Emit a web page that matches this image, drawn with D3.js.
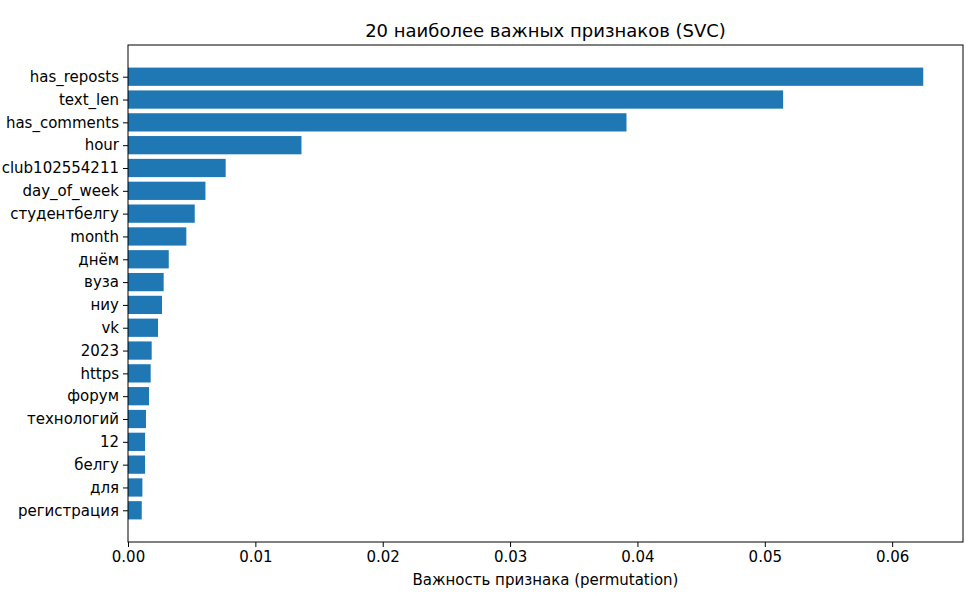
<!DOCTYPE html>
<html>
<head>
<meta charset="utf-8">
<script src="https://cdn.jsdelivr.net/npm/d3@7"></script>
<style>
    body { margin: 0; background: #fff; }
    text { font-family: "DejaVu Sans", sans-serif; fill: #000; }
</style>
</head>
<body>
<svg id="chart"></svg>
<script>
const features = [
    "has_reposts", "text_len", "has_comments", "hour", "club102554211",
    "day_of_week", "студентбелгу", "month", "днём", "вуза",
    "ниу", "vk", "2023", "https", "форум",
    "технологий", "12", "белгу", "для", "регистрация"
];
const importances = [
    0.06244, 0.05144, 0.03914, 0.01362, 0.00767,
    0.00608, 0.00524, 0.00458, 0.0032, 0.0028,
    0.00267, 0.00236, 0.00186, 0.00178, 0.00165,
    0.00141, 0.00134, 0.00134, 0.00113, 0.00108
];
const xTicks = [0, 0.01, 0.02, 0.03, 0.04, 0.05, 0.06];

const width = 975, height = 596;
const margin = { top: 45, right: 12, bottom: 54, left: 128 };
const innerW = width - margin.left - margin.right;
const innerH = height - margin.top - margin.bottom;

const svg = d3.select("#chart")
    .attr("width", width)
    .attr("height", height);

const g = svg.append("g")
    .attr("transform", `translate(${margin.left}, ${margin.top})`);

// matplotlib-like limits: 5% margin on each side
const xMax = d3.max(importances) * 1.05;
const x = d3.scaleLinear()
    .domain([0, xMax])
    .range([0, innerW]);

const barH = 0.8;
const yLo = -barH / 2, yHi = features.length - 1 + barH / 2;
const yPad = (yHi - yLo) * 0.05;
const y = d3.scaleLinear()
    .domain([yLo - yPad, yHi + yPad])
    .range([0, innerH]);

g.selectAll("rect.bar")
    .data(importances)
    .join("rect")
    .attr("class", "bar")
    .attr("x", x(0))
    .attr("y", (d, i) => y(i - barH / 2))
    .attr("width", d => x(d) - x(0))
    .attr("height", y(barH) - y(0))
    .attr("fill", "#1f77b4");

// x axis
const xAxis = d3.axisBottom(x)
    .tickValues(xTicks)
    .tickFormat(d3.format(".2f"))
    .tickSize(5)
    .tickPadding(4);

const gx = g.append("g")
    .attr("transform", `translate(0, ${innerH})`)
    .call(xAxis);
gx.select(".domain").remove();
gx.selectAll("text").style("font-size", "15px");

// y axis
const yAxis = d3.axisLeft(y)
    .tickValues(d3.range(features.length))
    .tickFormat(i => features[i])
    .tickSize(5)
    .tickPadding(4);

const gy = g.append("g").call(yAxis);
gy.select(".domain").remove();
gy.selectAll("text").style("font-size", "15px");

// frame
g.append("rect")
    .attr("x", 0)
    .attr("y", 0)
    .attr("width", innerW)
    .attr("height", innerH)
    .attr("fill", "none")
    .attr("stroke", "#000")
    .attr("stroke-width", 1);

// title and label
svg.append("text")
    .attr("x", margin.left + innerW / 2)
    .attr("y", 37)
    .attr("text-anchor", "middle")
    .style("font-size", "18px")
    .text("20 наиболее важных признаков (SVC)");

svg.append("text")
    .attr("x", margin.left + innerW / 2)
    .attr("y", 585)
    .attr("text-anchor", "middle")
    .style("font-size", "15px")
    .text("Важность признака (permutation)");
</script>
</body>
</html>
